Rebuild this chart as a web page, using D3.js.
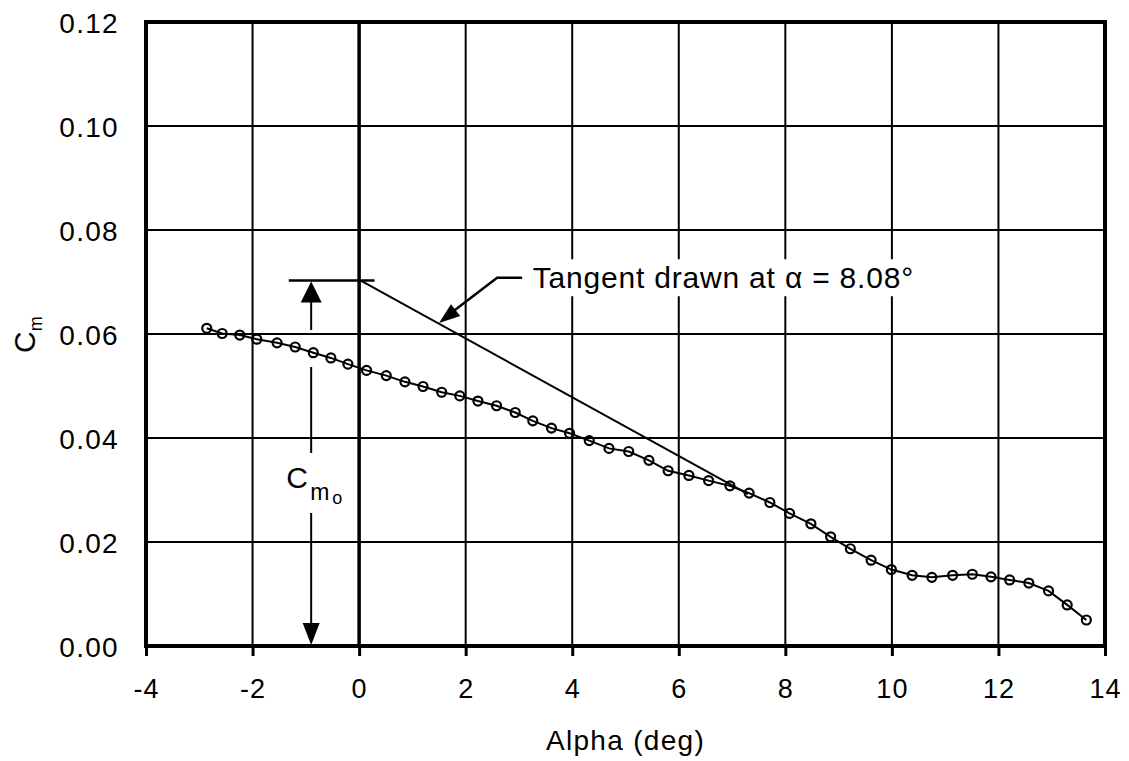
<!DOCTYPE html>
<html lang="en">
<head>
<meta charset="UTF-8">
<script src="https://d3js.org/d3.v7.min.js"></script>
<style>
  body { margin: 0; background: #fff; }
  svg text { font-family: Arial, "Liberation Sans", Helvetica, sans-serif; fill: #000; }
</style>
</head>
<body>
<div id="chart"></div>
<script>
// measured points (alpha in deg, Cm)
var alpha = [-2.86,-2.57,-2.24,-1.92,-1.54,-1.20,-0.86,-0.53,-0.21,0.14,0.51,0.86,1.20,1.55,1.89,2.23,2.58,2.93,3.26,
             3.61,3.95,4.32,4.69,5.06,5.44,5.80,6.19,6.56,6.96,7.32,7.71,8.08,8.48,8.85,9.22,9.61,9.99,
             10.38,10.75,11.14,11.51,11.86,12.21,12.57,12.94,13.29,13.65];
var cm = [0.0611,0.0601,0.0598,0.0590,0.0583,0.0575,0.0564,0.0554,0.0542,0.0530,0.0520,0.0508,0.0499,0.0488,0.0481,0.0471,0.0462,0.0449,0.0433,
          0.0419,0.0409,0.0395,0.0380,0.0374,0.0357,0.0337,0.0328,0.0318,0.0308,0.0294,0.0276,0.0255,0.0235,0.0210,0.0187,0.0165,0.0147,
          0.0136,0.0132,0.0136,0.0138,0.0133,0.0127,0.0121,0.0106,0.0079,0.0050];

// tangent line drawn at alpha = 8.08
var tangentAlpha = [0.04, 7.30];
var tangentCm = [0.0702, 0.0292];
var cm0 = 0.0703;
var cm0Alpha = -0.9;

var xTicks = [-4,-2,0,2,4,6,8,10,12,14];
var yTicks = [0,0.02,0.04,0.06,0.08,0.10,0.12];

var W = 1129, H = 761;
var pLeft = 146, pRight = 1105, pTop = 22, pBottom = 646;

var svg = d3.select("#chart").append("svg")
    .attr("width", W).attr("height", H);

var x = d3.scaleLinear().domain([-4, 14]).range([pLeft, pRight]);
var y = d3.scaleLinear().domain([0, 0.12]).range([pBottom, pTop]);

// grid
svg.append("g").selectAll("line")
  .data(xTicks.slice(1, -1))
  .enter().append("line")
    .attr("x1", d => x(d)).attr("x2", d => x(d))
    .attr("y1", pTop).attr("y2", pBottom)
    .attr("stroke", "#000")
    .attr("stroke-width", d => d === 0 ? 3.5 : 2);
svg.append("g").selectAll("line")
  .data(yTicks.slice(1, -1))
  .enter().append("line")
    .attr("x1", pLeft).attr("x2", pRight)
    .attr("y1", d => y(d)).attr("y2", d => y(d))
    .attr("stroke", "#000").attr("stroke-width", 2);

// axes
var xAxis = svg.append("g")
    .attr("transform", "translate(0," + pBottom + ")")
    .call(d3.axisBottom(x).tickValues(xTicks).tickFormat(d => String(d)).tickSize(10).tickPadding(23));
xAxis.select(".domain").remove();
xAxis.selectAll(".tick line").attr("stroke", "#000").attr("stroke-width", 3);
xAxis.selectAll("text").attr("font-size", 27).style("letter-spacing", "1px");

var yAxis = svg.append("g")
    .attr("transform", "translate(" + pLeft + ",0)")
    .call(d3.axisLeft(y).tickValues(yTicks).tickFormat(d3.format(".2f")).tickSize(0).tickPadding(27));
yAxis.select(".domain").remove();
yAxis.selectAll("text").attr("font-size", 28).attr("dy", "0.36em").style("letter-spacing", "1.3px");

// frame
svg.append("rect")
    .attr("x", pLeft).attr("y", pTop)
    .attr("width", pRight - pLeft).attr("height", pBottom - pTop)
    .attr("fill", "none").attr("stroke", "#000").attr("stroke-width", 4);

// annotation text with white box behind it
var ann = svg.append("g");
var annBox = ann.append("rect").attr("fill", "#fff");
var annText = ann.append("text")
    .attr("x", x(3.26)).attr("y", y(0.0688))
    .attr("font-size", 30).style("letter-spacing", "0.8px");
annText.append("tspan").text("Tangent drawn at ");
annText.append("tspan").text("\u03b1");
annText.append("tspan").text(" = 8.08\u00b0");
var bb = annText.node().getBBox();
annBox.attr("x", bb.x - 6).attr("y", bb.y - 2).attr("width", bb.width + 14).attr("height", bb.height + 4);

// tangent and Cm0 reference line
svg.append("line")
    .attr("x1", x(tangentAlpha[0])).attr("y1", y(tangentCm[0]))
    .attr("x2", x(tangentAlpha[1])).attr("y2", y(tangentCm[1]))
    .attr("stroke", "#000").attr("stroke-width", 2);
svg.append("line")
    .attr("x1", x(-1.32)).attr("x2", x(0.29))
    .attr("y1", y(cm0)).attr("y2", y(cm0))
    .attr("stroke", "#000").attr("stroke-width", 2.5);

// callout arrow
var tip = [x(1.50), y(0.0621)], elbow = [x(2.59), y(0.0708)], tail = [x(3.06), y(0.0708)];
svg.append("polyline")
    .attr("points", [tail, elbow, [tip[0] + 12, tip[1] - 10]].map(p => p.join(",")).join(" "))
    .attr("fill", "none").attr("stroke", "#000").attr("stroke-width", 2.5);
function head(tx, ty, ang, len, wid) {
  var c = Math.cos(ang), s = Math.sin(ang);
  var bx = tx - c * len, by = ty - s * len;
  return [[tx, ty], [bx - s * wid / 2, by + c * wid / 2], [bx + s * wid / 2, by - c * wid / 2]];
}
var ang = Math.atan2(tip[1] - elbow[1], tip[0] - elbow[0]);
svg.append("polygon")
    .attr("points", head(tip[0], tip[1], ang, 21, 15).map(p => p.join(",")).join(" "))
    .attr("fill", "#000");

// Cm0 dimension arrow
var ax = x(cm0Alpha);
var shafts = [[y(cm0) + 18, 330], [367, 453], [513, pBottom - 20]];
svg.append("g").selectAll("line")
  .data(shafts)
  .enter().append("line")
    .attr("x1", ax).attr("x2", ax)
    .attr("y1", d => d[0]).attr("y2", d => d[1])
    .attr("stroke", "#000").attr("stroke-width", 2);
svg.append("polygon")
    .attr("points", head(ax, y(cm0) + 1, -Math.PI / 2, 21, 21).map(p => p.join(",")).join(" "))
    .attr("fill", "#000");
svg.append("polygon")
    .attr("points", head(ax, pBottom - 1, Math.PI / 2, 22, 17).map(p => p.join(",")).join(" "))
    .attr("fill", "#000");
var cmo = svg.append("g");
cmo.append("text").attr("x", ax - 25).attr("y", 488).attr("font-size", 30).text("C");
cmo.append("text").attr("x", ax - 1).attr("y", 500).attr("font-size", 23).text("m");
cmo.append("text").attr("x", ax + 21).attr("y", 504).attr("font-size", 18).text("o");

// data curve
var pts = alpha.map((a, i) => [a, cm[i]]);
svg.append("path")
    .datum(pts)
    .attr("d", d3.line().x(d => x(d[0])).y(d => y(d[1])))
    .attr("fill", "none").attr("stroke", "#000").attr("stroke-width", 2);
svg.append("g").selectAll("circle")
  .data(pts)
  .enter().append("circle")
    .attr("cx", d => x(d[0])).attr("cy", d => y(d[1]))
    .attr("r", 4.5)
    .attr("fill", "none").attr("stroke", "#000").attr("stroke-width", 2.2);

// axis titles
svg.append("text")
    .attr("x", (pLeft + pRight) / 2).attr("y", 750)
    .attr("text-anchor", "middle").attr("font-size", 28)
    .style("letter-spacing", "1.3px")
    .text("Alpha (deg)");
var yl = svg.append("text")
    .attr("transform", "translate(35,353) rotate(-90)")
    .attr("font-size", 30);
yl.append("tspan").text("C");
yl.append("tspan").attr("font-size", 18).attr("dy", 7).text("m");
</script>
</body>
</html>
